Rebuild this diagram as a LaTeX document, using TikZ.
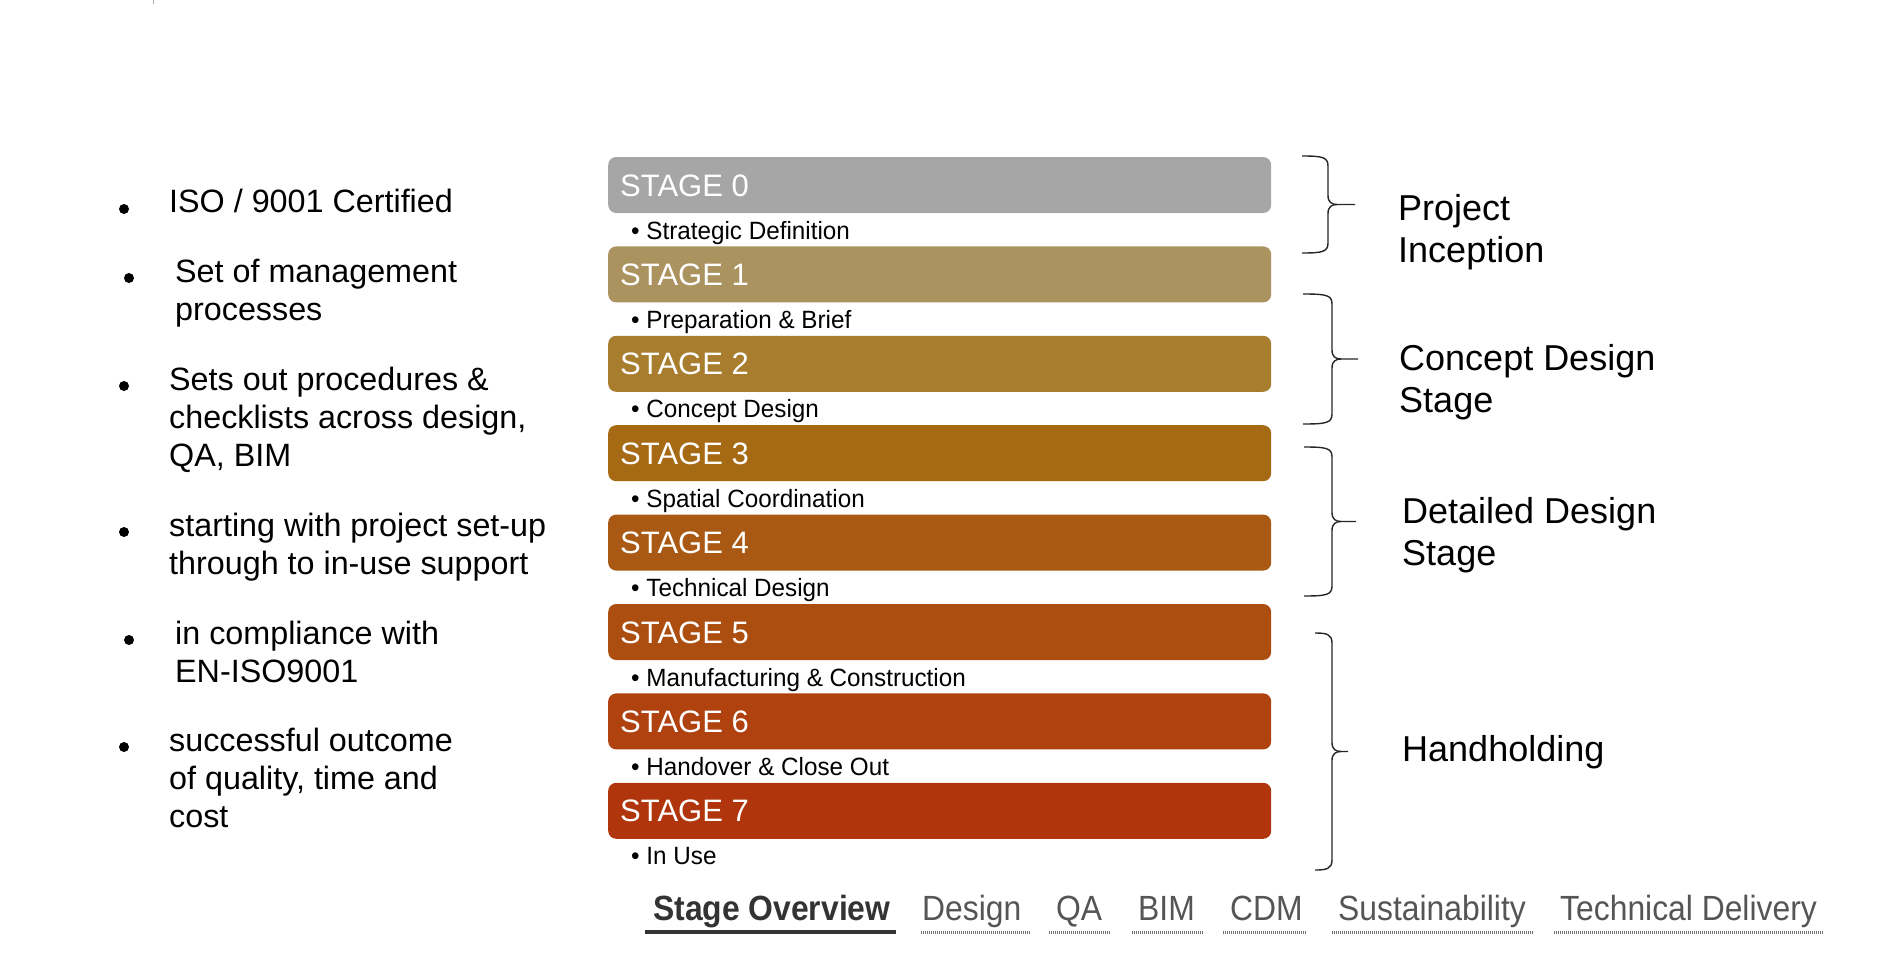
\documentclass[tikz,border=0pt]{standalone}
\usepackage{fontspec}
\setmainfont{Liberation Sans}
\newfontfamily\tabfont[FakeStretch=0.91]{Liberation Sans}
\newfontfamily\subfont[FakeStretch=0.97]{Liberation Sans}
\definecolor{st0}{HTML}{A6A6A6}
\definecolor{st1}{HTML}{AA935E}
\definecolor{st2}{HTML}{A97D2E}
\definecolor{st3}{HTML}{A66914}
\definecolor{st4}{HTML}{A95913}
\definecolor{st5}{HTML}{AD4E11}
\definecolor{st6}{HTML}{AF420F}
\definecolor{st7}{HTML}{B0350D}
\definecolor{tabgray}{HTML}{555555}
\definecolor{tabdark}{HTML}{333333}
\definecolor{linegray}{HTML}{707070}
\newcommand\mybrace[5]{%
  \pgfmathsetmacro\bym{(#4+#5)/2}%
  \draw[bracestyle] (#1,#4) .. controls (#2-6,#4) and (#2,#4+1) .. (#2,#4+10)
     -- (#2,\bym-9) .. controls (#2,\bym-2) and (#2+4,\bym) .. (#2+9,\bym) -- (#3,\bym);
  \draw[bracestyle] (#1,#5) .. controls (#2-6,#5) and (#2,#5-1) .. (#2,#5-10)
     -- (#2,\bym+9) .. controls (#2,\bym+2) and (#2+4,\bym) .. (#2+9,\bym);
}
\begin{document}
\begin{tikzpicture}[x=1pt,y=-1pt,
  stagebar/.style={fill=#1, draw=none, rounded corners=8pt, minimum width=663pt, minimum height=56pt, anchor=west, inner sep=0pt},
  stagelabel/.style={anchor=base west, inner sep=0pt, text=white, font=\fontsize{31}{36}\selectfont},
  sublabel/.style={anchor=base west, inner sep=0pt, font=\subfont\fontsize{25}{30}\selectfont},
  leftitem/.style={anchor=base west, inner sep=0pt, align=left, font=\fontsize{32.3}{38.4}\selectfont},
  rightitem/.style={anchor=base west, inner sep=0pt, align=left, font=\fontsize{36}{42.5}\selectfont},
  dotbullet/.style={circle, fill=black, inner sep=0pt, minimum size=10pt},
  tablabel/.style={anchor=base west, inner sep=0pt, text=tabgray, font=\tabfont\fontsize{35}{40}\selectfont},
  tabactive/.style={anchor=base west, inner sep=0pt, text=tabdark, font=\tabfont\bfseries\fontsize{35}{40}\selectfont},
  tabline/.style={line width=3pt, draw=linegray, dash pattern=on 1pt off 1pt},
  tabactiveline/.style={line width=4pt, draw=tabdark},
  bracestyle/.style={line width=1.4pt, draw=black!85}
]
\useasboundingbox (0,0) rectangle (1880,966);
\draw[gray!70, line width=1pt] (153,0) -- (153,4);

% stage bars
\foreach \i/\col/\sub in {0/st0/Strategic Definition, 1/st1/Preparation \& Brief, 2/st2/Concept Design, 3/st3/Spatial Coordination, 4/st4/Technical Design, 5/st5/Manufacturing \& Construction, 6/st6/Handover \& Close Out, 7/st7/In Use}{
  \pgfmathsetmacro\yc{185+89.4*\i}
  \node[stagebar=\col] (bar\i) at (608,\yc) {};
  \node[stagelabel] (lab\i) at (620,\yc+11) {STAGE \i};
  \node[sublabel] (sub\i) at (631,\yc+54) {• \sub};
}

% left bullets (base anchor = last line baseline)
\node[dotbullet] (b1) at (124,209) {};
\node[leftitem] (t1) at (169,212) {ISO / 9001 Certified};
\node[dotbullet] (b2) at (129,278) {};
\node[leftitem] (t2) at (175,320.4) {Set of management\\processes};
\node[dotbullet] (b3) at (124,386) {};
\node[leftitem] (t3) at (169,466.8) {Sets out procedures \&\\checklists across design,\\QA, BIM};
\node[dotbullet] (b4) at (124,532) {};
\node[leftitem] (t4) at (169,574.4) {starting with project set-up\\through to in-use support};
\node[dotbullet] (b5) at (129,640) {};
\node[leftitem] (t5) at (175,682.4) {in compliance with\\EN-ISO9001};
\node[dotbullet] (b6) at (124,747) {};
\node[leftitem] (t6) at (169,827.8) {successful outcome\\of quality, time and\\cost};

% braces
\mybrace{1302}{1328}{1355}{156}{253}
\mybrace{1303}{1332}{1358}{294}{424}
\mybrace{1304}{1332}{1356}{447}{596}
\mybrace{1315}{1332}{1348}{633}{870}

% right labels
\node[rightitem] (r1) at (1398,262.5) {Project\\Inception};
\node[rightitem] (r2) at (1399,412.5) {Concept Design\\Stage};
\node[rightitem] (r3) at (1402,565.5) {Detailed Design\\Stage};
\node[rightitem] (r4) at (1402,761) {Handholding};

% tabs
\node[tabactive] (tab1) at (653,920) {Stage Overview};
\node[tablabel] (tab2) at (922,920) {Design};
\node[tablabel] (tab3) at (1056,920) {QA};
\node[tablabel] (tab4) at (1138,920) {BIM};
\node[tablabel] (tab5) at (1230,920) {CDM};
\node[tablabel] (tab6) at (1338,920) {Sustainability};
\node[tablabel] (tab7) at (1560,920) {Technical Delivery};
\draw[tabactiveline] (645,932) -- (896,932);
\draw[tabline] (921,932) -- (1031,932);
\draw[tabline] (1049,932) -- (1111,932);
\draw[tabline] (1132,932) -- (1203,932);
\draw[tabline] (1223,932) -- (1306,932);
\draw[tabline] (1332,932) -- (1533,932);
\draw[tabline] (1554,932) -- (1824,932);
\end{tikzpicture}
\end{document}
